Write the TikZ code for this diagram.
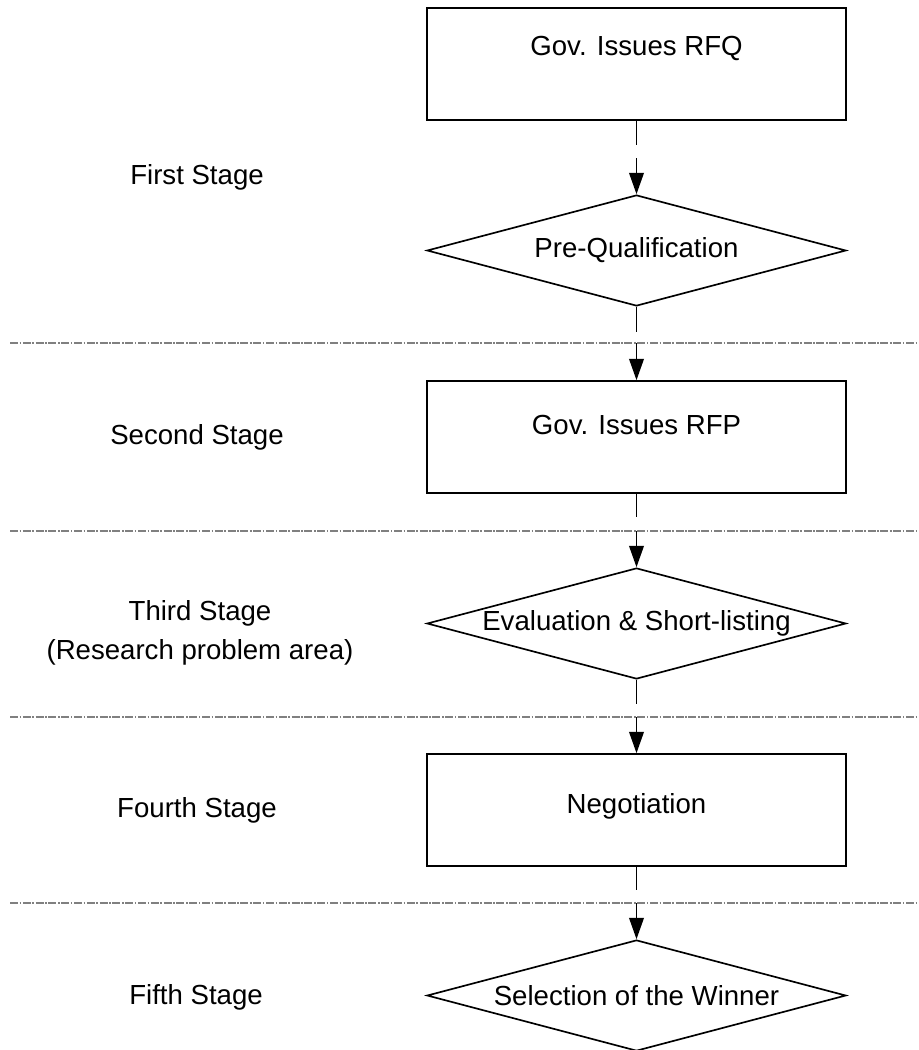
\documentclass[tikz,border=0pt]{standalone}
\usepackage{fontspec}
\setmainfont{Liberation Sans}
\usetikzlibrary{shapes.geometric,arrows.meta}

\tikzset{every picture/.style={line width=1.25pt}}
\tikzset{
  txt/.style={inner sep=0.75pt,font=\fontsize{20.7}{29.25}\selectfont},
  stepbox/.style={draw,rectangle,inner sep=0pt,minimum width=314.25pt,minimum height=84pt},
  decision/.style={draw,diamond,inner sep=0pt,minimum width=314.25pt,minimum height=83.25pt},
  flow/.style={line width=1.25pt},
  arr/.style={flow,-{Triangle[length=16pt,width=11pt]}},
  divider/.style={draw=gray,line width=0.9pt,dash pattern=on 6pt off 1.2pt on 1.2pt off 1.2pt}
}

\begin{document}
\begin{tikzpicture}[x=0.75pt,y=0.75pt,yscale=-1,xscale=1]
\useasboundingbox (0,0) rectangle (919,1050);

% Flow nodes
\node[stepbox,label={[txt,yshift=12pt]center:Gov. Issues RFQ}] (rfq) at (636.5,64) {};
\node[decision,label={[txt]center:Pre-Qualification}] (preq) at (636.5,250.5) {};
\node[stepbox,label={[txt,yshift=9pt]center:Gov. Issues RFP}] (rfp) at (636.5,437) {};
\node[decision,label={[txt]center:Evaluation \& Short-listing}] (eval) at (636.5,623.5) {};
\node[stepbox,label={[txt,yshift=3pt]center:Negotiation}] (neg) at (636.5,810) {};
\node[decision,label={[txt]center:Selection of the Winner}] (sel) at (636.5,995.5) {};

% Stage labels
\node[txt] (s1) at (197,177) {First Stage};
\node[txt] (s2) at (197,437) {Second Stage};
\node[txt,align=center] (s3) at (200,632.5) {Third Stage\\(Research problem area)};
\node[txt] (s4) at (197,810) {Fourth Stage};
\node[txt] (s5) at (196,997) {Fifth Stage};

% Stage dividers
\coordinate (d1l) at (10,343);  \coordinate (d1r) at (919,343);
\coordinate (d2l) at (10,531);  \coordinate (d2r) at (919,531);
\coordinate (d3l) at (10,717);  \coordinate (d3r) at (919,717);
\coordinate (d4l) at (10,903);  \coordinate (d4r) at (919,903);
\draw[divider] (d1l) -- (d1r);
\draw[divider] (d2l) -- (d2r);
\draw[divider] (d3l) -- (d3r);
\draw[divider] (d4l) -- (d4r);

% Connectors (each broken by a small gap)
\coordinate (g1a) at (636.5,145); \coordinate (g1b) at (636.5,158);
\coordinate (g2a) at (636.5,332); \coordinate (g2b) at (636.5,343);
\coordinate (g3a) at (636.5,517); \coordinate (g3b) at (636.5,531);
\coordinate (g4a) at (636.5,704); \coordinate (g4b) at (636.5,717);
\coordinate (g5a) at (636.5,890); \coordinate (g5b) at (636.5,903);
\draw[flow] (rfq.south) -- (g1a);
\draw[arr] (g1b) -- (preq.north);
\draw[flow] (preq.south) -- (g2a);
\draw[arr] (g2b) -- (rfp.north);
\draw[flow] (rfp.south) -- (g3a);
\draw[arr] (g3b) -- (eval.north);
\draw[flow] (eval.south) -- (g4a);
\draw[arr] (g4b) -- (neg.north);
\draw[flow] (neg.south) -- (g5a);
\draw[arr] (g5b) -- (sel.north);
\end{tikzpicture}
\end{document}
